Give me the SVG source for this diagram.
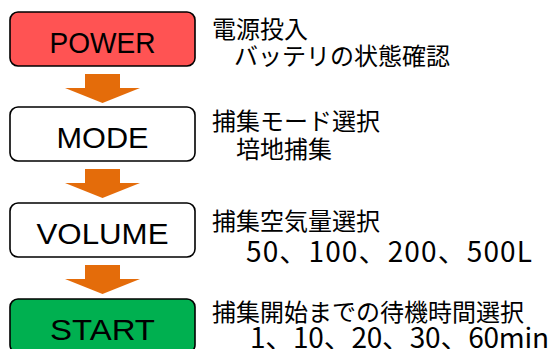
<svg xmlns="http://www.w3.org/2000/svg" width="551" height="349" viewBox="0 0 551 349">
<style>
.box{stroke:#000;stroke-width:1.6}
.lbl{font-family:"Liberation Sans",Arial,sans-serif;font-size:29px;fill:#000;text-anchor:middle}
.note{font-family:"Noto Sans CJK JP",sans-serif;font-size:24px;fill:#000}
.num{font-family:"Noto Sans CJK JP",sans-serif;font-size:28px;fill:#000}
.arr{fill:#E46C0A}
</style>
<defs>
<path id="down" d="M85,0 H120 V14 H140 L102.5,29 L65,14 H85 Z"/>
</defs>
<rect width="551" height="349" fill="#fff"/>
<g id="connectors">
<use href="#down" class="arr" y="74"/>
<use href="#down" class="arr" y="169"/>
<use href="#down" class="arr" y="265"/>
</g>
<g id="power">
<rect class="box" x="10" y="12" width="185" height="54" rx="8" fill="#FF5353"/>
<text class="lbl" x="102.5" y="53" textLength="106" lengthAdjust="spacingAndGlyphs">POWER</text>
<text class="note" x="212" y="38">電源投入</text>
<text class="note" x="234" y="65">バッテリの状態確認</text>
</g>
<g id="mode">
<rect class="box" x="10" y="107" width="185" height="54" rx="8" fill="#fff"/>
<text class="lbl" x="102.5" y="148" textLength="92" lengthAdjust="spacingAndGlyphs">MODE</text>
<text class="note" x="212" y="130">捕集モード選択</text>
<text class="note" x="236" y="158">培地捕集</text>
</g>
<g id="volume">
<rect class="box" x="10" y="203" width="185" height="54" rx="8" fill="#fff"/>
<text class="lbl" x="102.5" y="244" textLength="132" lengthAdjust="spacingAndGlyphs">VOLUME</text>
<text class="note" x="212" y="230">捕集空気量選択</text>
<text class="num" x="246" y="262" textLength="286" lengthAdjust="spacing">50、100、200、500L</text>
</g>
<g id="start">
<rect class="box" x="10" y="299" width="185" height="54" rx="8" fill="#00B050"/>
<text class="lbl" x="102.5" y="340" textLength="105" lengthAdjust="spacingAndGlyphs">START</text>
<text class="note" x="212" y="321">捕集開始までの待機時間選択</text>
<text class="num" x="250" y="348" textLength="299" lengthAdjust="spacing">1、10、20、30、60min</text>
</g>
</svg>
